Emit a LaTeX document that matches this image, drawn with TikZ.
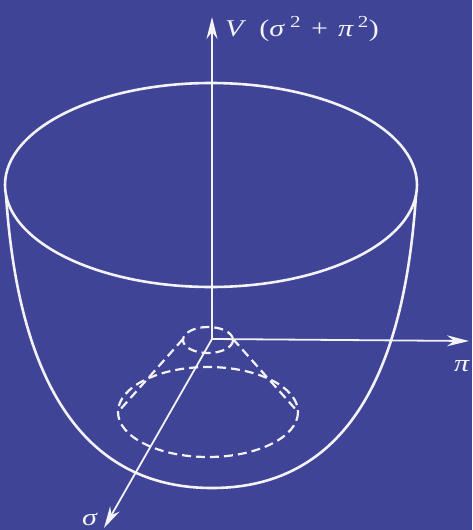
\documentclass[tikz,border=0pt]{standalone}
\usepackage{fontspec}
\setmainfont{Liberation Serif}
\newfontfamily\labelfont{Liberation Serif}[FakeStretch=1.25]
\usepackage{tikz}
\usetikzlibrary{arrows.meta, positioning, calc}
\definecolor{boardblue}{HTML}{3F4497}
\definecolor{chalk}{HTML}{F2F2F7}

\begin{document}
\begin{tikzpicture}[
    x=1pt, y=-1pt,
    rim/.style={draw=chalk, line width=2.6pt},
    axis/.style={draw=chalk, line width=1.8pt, -{Stealth[length=22pt, width=11pt, inset=7pt]}},
    hidden/.style={draw=chalk, line width=2.2pt, dash pattern=on 9pt off 5pt},
    lbl/.style={text=chalk, font=\labelfont\fontsize{24}{28}\selectfont, inner sep=0pt}
]
\fill[boardblue] (0,0) rectangle (472,530);
\useasboundingbox (0,0) rectangle (472,530);

% -- AXES --
\coordinate (O) at (212,339);
\coordinate (Vtip) at (212,17);
\coordinate (Ptip) at (469,341);
\coordinate (Stip) at (104,528);

\draw[axis] (O) -- (Vtip);
\draw[axis] (O) -- (Ptip);
\draw[axis] (O) -- (Stip);

\node[lbl, anchor=west] (vlbl) at (225,29)
    {\textit{V}\hspace{13pt}(\textit{σ}\hspace{5pt}\textsuperscript{2}\hspace{10pt}+\hspace{10pt}\textit{π}\hspace{4pt}\textsuperscript{2})};
\node[lbl] (plbl) at (462,366) {\textit{π}};
\node[lbl] (slbl) at (90,519) {\textit{σ}};

% -- BOWL --
\draw[rim] (211,185) ellipse [x radius=206, y radius=102];
\draw[rim] (6,195) .. controls (15,330) and (55,488) .. (212,488)
    .. controls (369,488) and (407,330) .. (416,195);

% -- HAT (hidden part) --
\draw[hidden] (208,340) ellipse [x radius=25, y radius=13];
\draw[hidden] (208,412) ellipse [x radius=90, y radius=45];
\draw[hidden] (183,339) -- (118,412);
\draw[hidden] (233,339) -- (298,412);
\end{tikzpicture}
\end{document}
